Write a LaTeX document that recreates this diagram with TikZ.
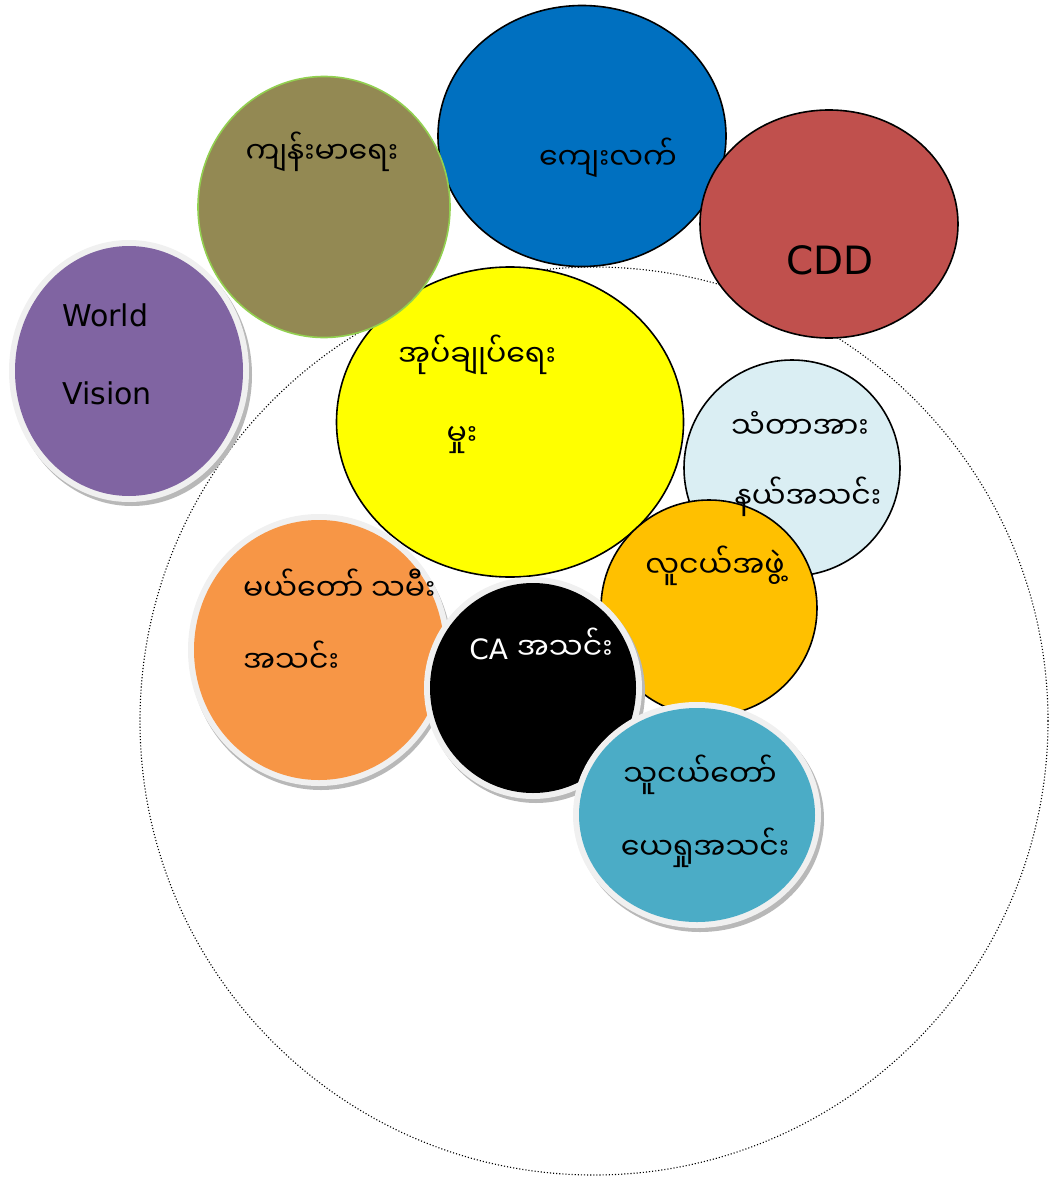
\documentclass[tikz,border=0pt]{standalone}
\usepackage{fontspec}
\setmainfont{DejaVu Sans}
\newfontfamily\mm[Script=Myanmar]{Noto Sans Myanmar UI}
\usetikzlibrary{shapes.geometric}
\definecolor{cblue}{HTML}{0070C0}
\definecolor{colive}{HTML}{938953}
\definecolor{cgreen}{HTML}{92D050}
\definecolor{cred}{HTML}{C0504D}
\definecolor{cpurple}{HTML}{8064A2}
\definecolor{cyel}{HTML}{FFFF00}
\definecolor{clight}{HTML}{DAEEF3}
\definecolor{camber}{HTML}{FFC000}
\definecolor{corange}{HTML}{F79646}
\definecolor{cteal}{HTML}{4BACC6}
\tikzset{
  bub/.style={ellipse, inner sep=0pt, draw=black, line width=1.6pt},
  ring/.style={ellipse, inner sep=0pt, fill=black!6},
  shad/.style={ellipse, inner sep=0pt, fill=black!28},
  mmtxt/.style={font=\mm\fontsize{30}{36}\selectfont, inner sep=0pt},
  lttxt/.style={font=\fontsize{30}{36}\selectfont, inner sep=0pt}
}
\begin{document}
\begin{tikzpicture}[x=1pt,y=-1pt]
\useasboundingbox (0,0) rectangle (1049,1177);
% big dotted circle
\node[circle, draw=black, dotted, line width=1.1pt, minimum size=908pt, inner sep=0pt] (big) at (594,721) {};
% blue
\node[bub, fill=cblue, minimum width=288pt, minimum height=261pt] (kyay) at (582,136) {};
% CDD
\node[bub, fill=cred, minimum width=258pt, minimum height=228pt] (cdd) at (829,224) {};
% yellow
\node[bub, fill=cyel, minimum width=347pt, minimum height=310pt] (ouk) at (510,422) {};
% olive
\node[ellipse, inner sep=0pt, fill=colive, draw=cgreen, line width=1.6pt, minimum width=252pt, minimum height=261pt] (kyan) at (324,207) {};
% World Vision
\node[shad, minimum width=240pt, minimum height=262pt] (wvs) at (132,375) {};
\node[ring, minimum width=240pt, minimum height=262pt] (wvr) at (129,371) {};
\node[ellipse, inner sep=0pt, fill=cpurple, minimum width=228pt, minimum height=250pt] (wv) at (129,371) {};
% light blue
\node[bub, fill=clight, minimum width=216pt, minimum height=216pt] (than) at (792,468) {};
% amber
\node[bub, fill=camber, minimum width=216pt, minimum height=216pt] (lu) at (709,608) {};
% orange
\node[shad, minimum width=262pt, minimum height=272pt] (mays) at (321,654) {};
\node[ring, minimum width=262pt, minimum height=272pt] (mayr) at (319,650) {};
\node[ellipse, inner sep=0pt, fill=corange, minimum width=250pt, minimum height=260pt] (may) at (319,650) {};
% black CA
\node[shad, minimum width=218pt, minimum height=222pt] (cas) at (536,692) {};
\node[ring, minimum width=218pt, minimum height=222pt] (car) at (533,688) {};
\node[ellipse, inner sep=0pt, fill=black, minimum width=206pt, minimum height=210pt] (ca) at (533,688) {};
% teal
\node[shad, minimum width=248pt, minimum height=226pt] (thus) at (700,819) {};
\node[ring, minimum width=248pt, minimum height=226pt] (thur) at (697,815) {};
\node[ellipse, inner sep=0pt, fill=cteal, minimum width=236pt, minimum height=214pt] (thu) at (697,815) {};
% texts
\node[mmtxt] (t1) at (322,152) {ကျန်းမာရေး};
\node[mmtxt] (t2) at (608,158) {ကျေးလက်};
\node[font=\fontsize{39}{46}\selectfont, inner sep=0pt] (t3) at (830,260) {CDD};
\node[lttxt, anchor=base west] (t4) at (62,326) {World};
\node[lttxt, anchor=base west] (t5) at (62,404) {Vision};
\node[mmtxt] (t6) at (477,355) {အုပ်ချုပ်ရေး};
\node[mmtxt] (t7) at (462,440) {မှုး};
\node[mmtxt] (t8) at (800,425) {သံတာအား};
\node[mmtxt] (t9) at (808,497) {နယ်အသင်း};
\node[mmtxt] (t10) at (715,566) {လူငယ်အဖွဲ့};
\node[mmtxt, anchor=west] (t11) at (243,585) {မယ်တော် သမီး};
\node[mmtxt, anchor=west] (t12) at (243,657) {အသင်း};
\node[inner sep=0pt, text=white, font=\fontsize{28}{34}\selectfont] (t13) at (541,644) {CA {\mm\fontsize{30}{36}\selectfont အသင်း}};
\node[mmtxt] (t14) at (700,775) {သူငယ်တော်};
\node[mmtxt] (t15) at (705,848) {ယေရှုအသင်း};
\end{tikzpicture}
\end{document}
